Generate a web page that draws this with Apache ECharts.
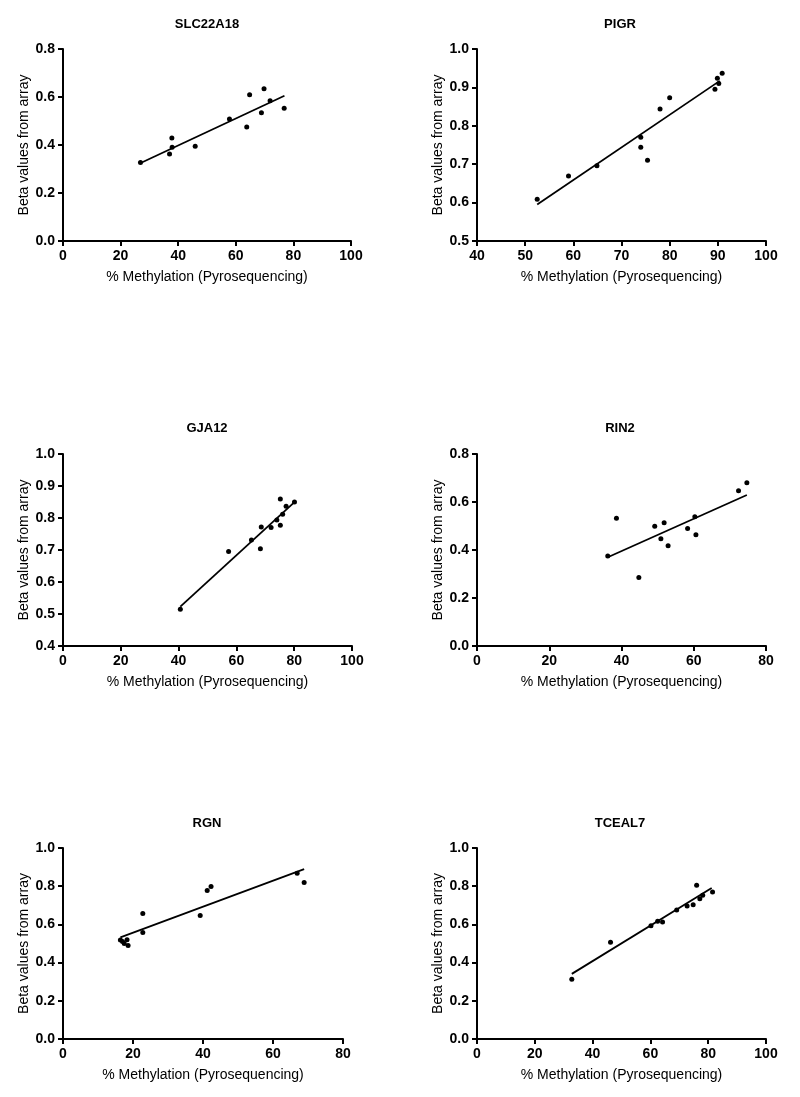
<!DOCTYPE html>
<html>
<head>
<meta charset="utf-8">
<script src="https://cdn.jsdelivr.net/npm/echarts@6/dist/echarts.min.js"></script>
<style>
html,body{margin:0;padding:0;background:#fff;}
#c{width:800px;height:1097px;}
</style>
</head>
<body>
<div id="c"></div>
<script>
// ---- Data ----
const titles = ['SLC22A18', 'PIGR', 'GJA12', 'RIN2', 'RGN', 'TCEAL7'];

const slcX = [26.9, 37.0, 37.8, 37.9, 45.9, 57.8, 63.8, 64.8, 68.9, 69.8, 71.9, 76.8];
const slcY = [0.327, 0.362, 0.429, 0.391, 0.395, 0.508, 0.475, 0.609, 0.534, 0.634, 0.584, 0.553];
const slcFitX = [26.6, 76.9];
const slcFitY = [0.323, 0.605];

const pigrX = [52.5, 59.0, 64.9, 74.0, 74.0, 75.4, 78.0, 80.0, 89.4, 89.9, 90.2, 90.9];
const pigrY = [0.609, 0.669, 0.696, 0.770, 0.744, 0.710, 0.844, 0.873, 0.895, 0.924, 0.910, 0.937];
const pigrFitX = [52.5, 90.4];
const pigrFitY = [0.595, 0.917];

const gjaX = [40.6, 57.3, 65.2, 68.3, 68.6, 72.0, 74.0, 75.2, 75.2, 76.0, 77.2, 80.1];
const gjaY = [0.515, 0.695, 0.731, 0.704, 0.772, 0.770, 0.794, 0.859, 0.777, 0.812, 0.837, 0.850];
const gjaFitX = [40.6, 80.0];
const gjaFitY = [0.523, 0.849];

const rinX = [36.2, 38.6, 44.8, 49.2, 50.9, 51.8, 52.9, 58.3, 60.3, 60.6, 72.4, 74.7];
const rinY = [0.375, 0.532, 0.285, 0.499, 0.447, 0.514, 0.418, 0.490, 0.539, 0.464, 0.647, 0.680];
const rinFitX = [36.2, 74.7];
const rinFitY = [0.370, 0.629];

const rgnX = [16.4, 17.0, 17.5, 18.3, 18.6, 22.8, 22.8, 39.2, 41.2, 42.3, 66.9, 68.9];
const rgnY = [0.518, 0.510, 0.500, 0.520, 0.489, 0.657, 0.558, 0.647, 0.777, 0.798, 0.868, 0.819];
const rgnFitX = [16.4, 68.9];
const rgnFitY = [0.532, 0.889];

const tcX = [32.8, 46.2, 60.2, 62.5, 64.2, 69.1, 72.7, 74.8, 76.0, 77.1, 78.1, 81.5];
const tcY = [0.313, 0.506, 0.593, 0.617, 0.612, 0.675, 0.696, 0.703, 0.805, 0.734, 0.753, 0.770];
const tcFitX = [32.8, 81.2];
const tcFitY = [0.341, 0.791];

// axis ranges: [xmin, xmax, xint, ymin, ymax, yint]
const slcAxes  = [0, 100, 20, 0, 0.8, 0.2];
const pigrAxes = [40, 100, 10, 0.5, 1.0, 0.1];
const gjaAxes  = [0, 100, 20, 0.4, 1.0, 0.1];
const rinAxes  = [0, 80, 20, 0, 0.8, 0.2];
const rgnAxes  = [0, 80, 20, 0, 1.0, 0.2];
const tcAxes   = [0, 100, 20, 0, 1.0, 0.2];

const xName = '% Methylation (Pyrosequencing)';
const yName = 'Beta values from array';

// ---- Layout ----
const FONT = "'Liberation Sans', Arial, sans-serif";
const grids = [
  {left: 63, top: 49, width: 288, height: 192},
  {left: 477, top: 49, width: 289, height: 192},
  {left: 63, top: 454, width: 289, height: 192},
  {left: 477, top: 454, width: 289, height: 192},
  {left: 63, top: 848, width: 280, height: 191},
  {left: 477, top: 848, width: 289, height: 191}
];
const titlePos = [[207, 24], [620, 24], [207, 428], [620, 428], [207, 823], [620, 823]];

const sets = [
  [slcX, slcY, slcFitX, slcFitY, slcAxes],
  [pigrX, pigrY, pigrFitX, pigrFitY, pigrAxes],
  [gjaX, gjaY, gjaFitX, gjaFitY, gjaAxes],
  [rinX, rinY, rinFitX, rinFitY, rinAxes],
  [rgnX, rgnY, rgnFitX, rgnFitY, rgnAxes],
  [tcX, tcY, tcFitX, tcFitY, tcAxes]
];

const axisLine = {show: true, onZero: false, lineStyle: {color: '#000', width: 2}};
const axisTick = {show: true, length: 5, lineStyle: {color: '#000', width: 2}};
const labelStyle = {color: '#000', fontWeight: 'bold', fontSize: 14, fontFamily: FONT, margin: 8};
const nameStyle = {color: '#000', fontSize: 14, fontFamily: FONT};

const xAxes = [], yAxes = [], series = [], graphics = [];
sets.forEach((s, i) => {
  const [xs, ys, fx, fy, ax] = s;
  xAxes.push({
    type: 'value', gridIndex: i, min: ax[0], max: ax[1], interval: ax[2],
    axisLine, axisTick, splitLine: {show: false},
    axisLabel: Object.assign({}, labelStyle, {formatter: v => String(Math.round(v))}),
    name: xName, nameLocation: 'middle', nameGap: 29, nameTextStyle: nameStyle
  });
  yAxes.push({
    type: 'value', gridIndex: i, min: ax[3], max: ax[4], interval: ax[5],
    axisLine, axisTick, splitLine: {show: false},
    axisLabel: Object.assign({}, labelStyle, {formatter: v => v.toFixed(1)}),
    name: yName, nameLocation: 'middle', nameGap: 32, nameTextStyle: nameStyle
  });
  series.push({
    type: 'line', xAxisIndex: i, yAxisIndex: i,
    data: fx.map((x, k) => [x, fy[k]]),
    showSymbol: false, symbol: 'none',
    lineStyle: {color: '#000', width: 1.8}, silent: true, z: 2
  });
  series.push({
    type: 'scatter', xAxisIndex: i, yAxisIndex: i,
    data: xs.map((x, k) => [x, ys[k]]),
    symbolSize: 5, itemStyle: {color: '#000', opacity: 1}, z: 3
  });
  graphics.push({
    type: 'text', x: titlePos[i][0], y: titlePos[i][1],
    style: {text: titles[i], align: 'center', verticalAlign: 'middle',
            font: 'bold 13px ' + FONT, fill: '#000'}
  });
});

const chart = echarts.init(document.getElementById('c'), null, {renderer: 'canvas'});
chart.setOption({
  animation: false,
  backgroundColor: '#fff',
  grid: grids.map(g => Object.assign({containLabel: false}, g)),
  xAxis: xAxes,
  yAxis: yAxes,
  series: series,
  graphic: graphics
});
</script>
</body>
</html>
